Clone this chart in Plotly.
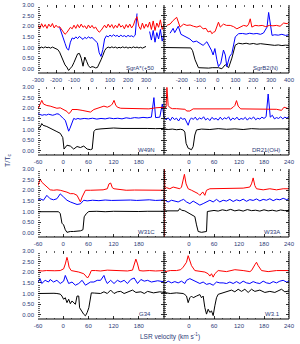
import plotly.graph_objects as go

# ---------------- data ----------------
# Row 1 left: SgrA*(+50
SGRA_V_RED = list(range(-300, 401, 10))
SGRA_RED = [2.05, 1.88, 2.12, 1.95, 2.08, 1.90, 2.10, 1.97, 2.13, 1.92,
            2.05, 1.95, 1.98, 1.85, 1.78, 1.62, 1.70, 1.80, 1.95, 1.88,
            2.05, 1.90, 2.08, 1.93, 2.10, 1.95, 2.02, 1.88, 2.06, 1.92,
            2.04, 1.90, 1.96, 1.82, 1.72, 1.80, 1.92, 2.05, 1.92, 2.10,
            1.95, 2.08, 1.90, 2.05, 1.93, 2.12, 1.96, 2.04, 1.88, 2.08,
            1.94, 2.10, 1.92, 2.05, 2.30, 2.45, 2.00, 1.85, 2.15, 1.90,
            2.10, 1.95, 2.20, 1.85, 2.25, 1.80, 2.15, 1.95, 2.30, 1.85, 2.10]
SGRA_V_BLUE = list(range(-180, 251, 10)) + [None] + list(range(320, 401, 10))
SGRA_BLUE = [1.95, 1.65, 1.45, 1.20, 0.95, 0.88, 1.25, 1.45, 1.40, 1.50,
             1.42, 1.52, 1.45, 1.38, 1.48, 1.42, 1.50, 1.44, 1.47, 1.40,
             1.30, 1.22, 0.75, 0.58, 0.90, 1.40, 1.55, 1.50, 1.58, 1.52,
             1.60, 1.53, 1.57, 1.50, 1.58, 1.52, 1.56, 1.50, 1.57, 1.52,
             1.55, 1.50, 1.58, 2.60, None,
             1.75, 1.35, 1.80, 1.25, 1.70, 1.40, 1.85, 1.30, 1.60]
SGRA_V_BLACK = list(range(-300, 311, 10))
SGRA_BLACK = [1.00, 0.97, 1.02, 0.98, 1.03, 0.99, 1.01, 0.97, 1.02, 0.98,
              0.96, 0.90, 0.78, 0.55, 0.33, 0.18, 0.08, -0.08, 0.02, 0.12,
              0.30, 0.55, 0.70, 0.72, 0.50, 0.12, 0.55, 0.35, 0.15, 0.05,
              0.10, 0.08, 0.04, 0.06, 0.22, 0.42, 0.62, 0.85, 0.97, 1.02,
              0.98, 1.03, 0.99, 1.02, 0.97, 1.01, 0.98, 1.03, 0.99, 1.02,
              0.97, 1.01, 0.98, 1.03, 0.99, 1.02, 0.98, 1.01, 0.97, 1.03, 1.05]

# Row 1 right: SgrB2(N)
SGRB2_V_BLACK = [-300, -270, -240, -210, -180, -150, -140, -126, -107, -90,
                 -70, -50, -30, -10, 5, 24, 43, 62, 80, 99,
                 118, 140, 160, 180, 200, 220, 240, 260, 280, 296,
                 320, 340, 360, 380, 400]
SGRB2_BLACK = [1.00, 1.00, 1.01, 0.99, 1.00, 0.98, 0.85, 0.42, 0.05, 0.04,
               0.06, 0.03, 0.05, 0.04, 0.05, 0.00, 0.19, 0.05, 0.50, 1.11,
               1.20, 1.17, 1.20, 1.16, 1.19, 1.15, 1.18, 1.16, 1.14, 1.12,
               1.10, 1.12, 1.09, 1.11, 1.10]
SGRB2_V_BLUE = [-266, -249, -240, -220, -205, -190, -172, -155, -137, -118,
                -98, -81, -60, -42, -35, -25, -15, -4, 5, 18,
                33, 43, 52, 67, 80, 99, 118, 140, 160, 180,
                200, 220, 240, 257, 277, 286, 296, 305, 320, 340,
                360, 380, 400]
SGRB2_BLUE = [1.67, 1.90, 1.70, 2.00, 1.62, 1.55, 1.50, 1.40, 1.26, 1.30,
              1.19, 1.10, 1.27, 1.03, 0.88, 0.65, 0.95, 0.42, 0.10, 0.26,
              0.88, 0.65, 0.10, 0.57, 0.72, 1.50, 1.65, 1.66, 1.63, 1.67,
              1.64, 1.66, 1.62, 1.68, 1.96, 2.65, 1.96, 1.57, 1.60, 1.58,
              1.62, 1.57, 1.60]
SGRB2_V_RED = [-285, -266, -249, -229, -210, -190, -172, -154, -135, -116,
               -98, -81, -65, -53, -40, -32, -22, -14, 5, 15,
               33, 50, 71, 90, 108, 127, 146, 165, 174, 183,
               192, 210, 230, 250, 270, 290, 310, 330, 350, 370,
               390, 400]
SGRB2_RED = [2.04, 2.10, 2.27, 2.42, 1.96, 2.10, 2.04, 2.06, 2.00, 1.96,
             2.02, 1.88, 1.90, 1.73, 1.78, 1.65, 1.72, 1.75, 2.19, 1.96,
             2.10, 2.04, 2.04, 1.98, 1.88, 1.98, 2.04, 2.00, 2.10, 2.35,
             1.96, 2.04, 2.02, 2.04, 1.98, 2.04, 2.02, 2.04, 2.00, 2.15,
             2.12, 2.20]

# Row 2 left: W49N
W49N_V_BLACK = [-60, -55, -51, -48, -39, -31, -23, -15, -7, -1,
                2, 5, 9, 17, 25, 33, 41, 49, 57, 65,
                69, 73, 77, 90, 105, 120, 140, 160, 180, 200, 220, 240]
W49N_BLACK = [1.05, 1.10, 1.28, 1.20, 1.14, 1.05, 0.98, 0.90, 0.82, 0.62,
              0.08, 0.15, 0.26, 0.22, 0.08, 0.20, 0.15, 0.22, 0.08, 0.05,
              0.08, 0.90, 1.00, 1.03, 1.05, 1.07, 1.05, 1.06, 1.04, 1.05, 1.04, 1.05]
W49N_V_BLUE = [-60, -55, -50, -45, -40, -35, -30, -25, -20, -15,
               -10, -5, 0, 5, 10, 13, 16, 20, 25, 30,
               35, 40, 50, 60, 70, 80, 90, 100, 110, 120,
               130, 140, 150, 160, 170, 180, 190, 200, 210, 216,
               220, 230, 236, 240]
W49N_BLUE = [1.74, 1.70, 1.67, 1.70, 1.68, 1.72, 1.69, 1.67, 1.70, 1.74,
             1.72, 1.60, 1.52, 1.43, 1.10, 0.92, 1.05, 1.30, 1.52, 1.48,
             1.52, 1.49, 1.52, 1.50, 1.53, 1.49, 1.52, 1.50, 1.54, 1.51,
             1.53, 1.50, 1.55, 1.52, 1.56, 1.54, 1.57, 1.55, 1.58, 2.50,
             1.56, 1.58, 2.20, 1.57]
W49N_V_RED = [-60, -55, -51, -47, -39, -31, -23, -15, -7, 1,
              9, 13, 17, 21, 33, 45, 57, 65, 73, 81,
              89, 97, 105, 113, 117, 121, 125, 129, 137, 150,
              165, 177, 190, 204, 220, 240]
W49N_RED = [1.97, 2.20, 2.37, 2.20, 2.13, 2.10, 2.05, 2.00, 2.02, 1.94,
            1.85, 1.75, 1.80, 1.94, 1.94, 1.90, 1.85, 1.82, 1.94, 2.00,
            2.05, 2.10, 2.05, 2.12, 2.20, 2.37, 2.15, 2.05, 2.00, 2.00,
            1.98, 1.97, 1.98, 1.97, 2.02, 2.05]

# Row 2 right: DR21(OH)
DR21_V_BLACK = [-60, -50, -40, -30, -20, -14, -10, -7, -2, 6,
                10, 14, 18, 30, 50, 70, 90, 110, 130, 150,
                170, 190, 210, 230, 240]
DR21_BLACK = [1.03, 1.00, 1.02, 0.99, 1.01, 0.98, 0.88, 0.35, 0.12, 0.05,
              0.20, 0.74, 0.98, 1.02, 1.00, 1.04, 1.01, 1.03, 1.00, 1.04,
              1.02, 1.03, 1.01, 1.04, 1.03]
DR21_V_BLUE = [-60, -55, -50, -45, -40, -35, -30, -25, -20, -15,
               -10, -5, -2, 2, 6, 10, 15, 20, 25, 30,
               35, 40, 45, 50, 55, 60, 65, 70, 75, 80,
               85, 90, 95, 100, 105, 110, 115, 120, 125, 130,
               135, 140, 145, 150, 155, 160, 165, 170, 175, 180,
               185, 190, 195, 200, 205, 210, 215, 220, 225, 230,
               235, 240]
DR21_BLUE = [1.60, 1.45, 1.55, 1.42, 1.58, 1.47, 1.53, 1.40, 1.56, 1.48,
             1.52, 1.36, 1.20, 1.45, 1.55, 1.47, 1.58, 1.44, 1.55, 1.49,
             1.60, 1.45, 1.53, 1.42, 1.57, 1.48, 1.52, 1.44, 1.58, 1.46,
             1.55, 1.50, 1.60, 1.43, 1.54, 1.47, 1.58, 1.45, 1.52, 1.48,
             1.57, 1.44, 1.55, 1.50, 1.59, 1.46, 1.53, 1.49, 1.58, 1.52,
             1.60, 2.67, 1.58, 1.67, 1.50, 1.56, 1.52, 1.60, 1.50, 1.58,
             1.53, 1.60]
DR21_V_RED = [-60, -55, -53, -50, -46, -40, -30, -20, -10, -5,
              2, 10, 20, 40, 60, 80, 100, 106, 110, 114,
              118, 124, 140, 160, 180, 200, 210, 222, 228, 240]
DR21_RED = [2.00, 2.05, 2.98, 2.13, 2.03, 1.98, 1.98, 1.97, 1.95, 1.87,
            1.87, 1.97, 1.97, 1.98, 1.96, 1.98, 1.97, 2.05, 2.13, 2.36,
            2.10, 1.97, 1.97, 1.98, 1.96, 1.97, 1.95, 1.90, 2.05, 1.97]

# Row 3 left: W31C
W31C_V_BLACK = [-60, -40, -20, -11, -7, -3, 1, 5, 9, 17,
                25, 33, 41, 47, 50, 55, 61, 80, 100, 120,
                140, 160, 180, 200, 220, 240]
W31C_BLACK = [0.99, 1.00, 0.99, 0.99, 0.90, 0.45, 0.37, 0.14, 0.02, 0.06,
              0.06, 0.07, 0.09, 0.14, 0.75, 0.90, 1.00, 1.01, 0.99, 1.01,
              1.00, 1.02, 1.00, 1.01, 1.00, 1.01]
W31C_V_BLUE = [-60, -55, -47, -39, -31, -23, -15, -7, 1, 9,
               17, 25, 33, 41, 49, 57, 70, 85, 100, 115,
               130, 145, 160, 175, 190, 205, 220, 240]
W31C_BLUE = [1.53, 1.60, 1.53, 1.76, 1.60, 1.55, 1.60, 1.83, 1.68, 1.53,
             1.45, 1.40, 1.33, 1.36, 1.53, 1.50, 1.53, 1.51, 1.54, 1.52,
             1.53, 1.51, 1.54, 1.52, 1.53, 1.55, 1.52, 1.54]
W31C_V_RED = [-60, -55, -51, -47, -39, -31, -23, -15, -7, 1,
              9, 17, 25, 33, 37, 41, 45, 49, 53, 65,
              80, 95, 105, 109, 113, 117, 121, 135, 150, 170,
              190, 210, 240]
W31C_RED = [2.22, 2.53, 2.38, 2.30, 2.14, 2.02, 2.00, 2.02, 2.00, 1.96,
            1.91, 1.84, 1.84, 1.76, 1.60, 1.45, 1.68, 1.84, 2.00, 2.00,
            2.01, 2.02, 2.07, 2.30, 2.34, 2.12, 2.07, 2.02, 2.00, 2.01,
            2.00, 2.01, 2.00]

# Row 3 right: W33A
W33A_V_BLACK = [-60, -50, -40, -30, -26, -22, -18, -10, -2, 6,
                14, 18, 22, 30, 38, 42, 44, 50, 60, 70,
                80, 90, 100, 110, 120, 130, 140, 150, 160, 170,
                180, 190, 200, 210, 220, 230, 240]
W33A_BLACK = [1.03, 1.03, 1.02, 1.03, 1.03, 1.14, 1.06, 1.03, 0.95, 0.84,
              0.76, 0.37, 0.06, 0.02, 0.06, 0.06, 1.00, 1.03, 1.05, 1.02,
              1.08, 1.04, 1.10, 1.03, 1.07, 1.02, 1.09, 1.04, 1.06, 1.02,
              1.08, 1.03, 1.06, 1.02, 1.07, 1.04, 1.05]
W33A_V_BLUE = [-58, -50, -42, -34, -26, -18, -13, -6, 2, 10,
               18, 26, 34, 42, 50, 58, 66, 74, 82, 90,
               98, 106, 114, 122, 130, 138, 146, 154, 162, 170,
               178, 186, 194, 202, 210, 218, 226, 234, 240]
W33A_BLUE = [1.53, 1.45, 1.53, 1.49, 1.45, 1.53, 1.57, 1.45, 1.37, 1.49,
             1.40, 1.30, 1.37, 1.45, 1.53, 1.45, 1.57, 1.45, 1.53, 1.49,
             1.57, 1.47, 1.55, 1.50, 1.58, 1.48, 1.56, 1.52, 1.59, 1.50,
             1.57, 1.53, 1.60, 1.51, 1.58, 1.55, 1.62, 1.56, 1.60]
W33A_V_RED = [-59.5, -59.5, -58, -54, -46, -38, -30, -22, -18, -14,
              -11, -7, -2, 6, 14, 22, 26, 33, 38, 42,
              50, 66, 82, 98, 114, 130, 146, 150, 154, 158,
              162, 178, 194, 210, 226, 240]
W33A_RED = [-0.3, 3.1, 2.07, 2.12, 2.07, 2.15, 2.10, 2.07, 2.15, 2.45,
            2.75, 2.30, 2.07, 2.00, 1.92, 1.84, 1.76, 1.92, 1.76, 2.00,
            2.07, 2.07, 2.10, 2.07, 2.07, 2.10, 2.15, 2.30, 2.58, 2.22,
            2.07, 2.02, 2.07, 2.02, 2.07, 2.07]

# Row 4 left: G34
G34_V_BLACK = [-59, -50, -40, -31, -22, -15, -7, -3, 1, 5,
               9, 13, 17, 21, 25, 29, 33, 37, 39, 45,
               49, 53, 57, 61, 65, 67, 75, 89, 97, 105,
               113, 121, 129, 137, 145, 153, 165, 173, 185, 193,
               201, 215, 230, 240]
G34_BLACK = [1.00, 1.01, 1.00, 1.00, 1.01, 1.00, 0.97, 0.88, 0.73, 0.80,
             0.57, 0.73, 0.52, 0.65, 0.57, 0.49, 0.88, 0.88, 0.33, 0.10,
             0.02, -0.05, 0.10, 0.33, 0.73, 1.03, 1.02, 1.00, 1.08, 1.00,
             1.16, 1.00, 1.08, 1.10, 1.00, 1.05, 1.16, 1.05, 1.08, 1.00,
             1.10, 1.03, 1.08, 1.05]
G34_V_BLUE = [-60, -55, -51, -43, -35, -31, -23, -15, -7, 1,
              5, 9, 13, 21, 29, 37, 45, 53, 58, 65,
              73, 81, 89, 97, 101, 105, 113, 121, 129, 137,
              145, 153, 161, 169, 177, 185, 193, 201, 210, 225,
              240]
G34_BLUE = [1.54, 1.70, 1.47, 1.62, 1.54, 1.66, 1.54, 1.62, 1.47, 1.58,
            1.85, 1.62, 1.47, 1.54, 1.39, 1.47, 1.62, 1.39, 1.47, 1.54,
            1.54, 1.62, 1.62, 1.85, 1.62, 1.47, 1.62, 1.47, 1.62, 1.54,
            1.62, 1.47, 1.66, 1.73, 1.47, 1.66, 1.58, 1.62, 1.54, 1.60,
            1.55]
G34_V_RED = [-60, -50, -40, -30, -20, -7, 1, 5, 9, 11,
             14, 19, 27, 37, 49, 53, 58, 62, 67, 77,
             89, 105, 121, 137, 153, 165, 169, 173, 177, 181,
             190, 205, 220, 240]
G34_RED = [2.08, 2.06, 2.08, 2.06, 2.07, 2.08, 2.16, 2.39, 2.70, 2.55,
           2.24, 2.08, 2.06, 2.01, 1.93, 1.85, 1.73, 1.85, 2.08, 2.08,
           2.06, 2.10, 2.08, 2.08, 2.06, 2.10, 2.31, 2.62, 2.39, 2.08,
           2.06, 2.08, 2.06, 2.08]

# Row 4 right: W3.1
W31_V_BLACK = [-60, -45, -30, -14, -10, -6, -2, 2, 6, 10,
               18, 26, 30, 34, 38, 42, 46, 50, 54, 58,
               62, 66, 70, 80, 90, 102, 110, 118, 126, 134,
               142, 150, 158, 170, 182, 194, 206, 222, 230, 240]
W31_BLACK = [1.05, 1.00, 1.03, 1.00, 0.95, 0.88, 0.57, 0.80, 0.88, 0.80,
             0.88, 0.95, 0.80, 0.88, 0.34, 0.03, 0.26, 0.11, 0.18, -0.04,
             0.42, 0.80, 0.96, 1.03, 1.08, 1.16, 1.08, 1.20, 1.10, 1.20,
             1.05, 1.20, 1.10, 1.16, 1.05, 1.10, 1.05, 1.20, 1.08, 1.12]
W31_V_BLUE = [-58, -50, -42, -34, -26, -18, -10, -6, 2, 10,
              18, 26, 34, 42, 50, 58, 66, 74, 82, 90,
              98, 106, 114, 122, 130, 138, 146, 154, 162, 170,
              178, 186, 194, 202, 210, 218, 226, 234, 240]
W31_BLUE = [1.47, 1.58, 1.50, 1.56, 1.50, 1.58, 1.47, 1.62, 1.70, 1.62,
            1.54, 1.47, 1.54, 1.43, 1.47, 1.39, 1.54, 1.50, 1.50, 1.47,
            1.54, 1.47, 1.56, 1.47, 1.58, 1.50, 1.47, 1.56, 1.50, 1.47,
            1.58, 1.50, 1.47, 1.56, 1.50, 1.58, 1.62, 1.54, 1.56]
W31_V_RED = [-58, -45, -30, -20, -14, -6, -2, 2, 6, 14,
             26, 38, 46, 50, 54, 58, 62, 70, 90, 110,
             130, 146, 150, 154, 158, 162, 166, 174, 190, 210,
             240]
W31_RED = [2.03, 2.08, 2.08, 2.12, 2.24, 2.47, 2.78, 2.55, 2.31, 2.08,
           2.03, 2.01, 1.93, 1.82, 1.93, 1.77, 1.93, 2.08, 2.03, 2.12,
           2.08, 2.03, 2.08, 2.24, 2.35, 2.47, 2.31, 2.08, 2.03, 2.08,
           2.08]

PANEL_LABELS = ["SgrA*(+50", "SgrB2(N)", "W49N", "DR21(OH)",
                "W31C", "W33A", "G34", "W3.1"]
TOP_XTICKS_LEFT = [-300, -200, -100, 0, 100, 200, 300]
TOP_XTICKS_RIGHT = [-200, -100, 0, 100, 200, 300, 400]
XTICKS_LEFT = [-60, 0, 60, 120, 180]
XTICKS_RIGHT = [0, 60, 120, 180, 240]

# ---------------- figure ----------------
panels = [
    (SGRA_V_BLACK, SGRA_BLACK, SGRA_V_BLUE, SGRA_BLUE, SGRA_V_RED, SGRA_RED),
    (SGRB2_V_BLACK, SGRB2_BLACK, SGRB2_V_BLUE, SGRB2_BLUE, SGRB2_V_RED, SGRB2_RED),
    (W49N_V_BLACK, W49N_BLACK, W49N_V_BLUE, W49N_BLUE, W49N_V_RED, W49N_RED),
    (DR21_V_BLACK, DR21_BLACK, DR21_V_BLUE, DR21_BLUE, DR21_V_RED, DR21_RED),
    (W31C_V_BLACK, W31C_BLACK, W31C_V_BLUE, W31C_BLUE, W31C_V_RED, W31C_RED),
    (W33A_V_BLACK, W33A_BLACK, W33A_V_BLUE, W33A_BLUE, W33A_V_RED, W33A_RED),
    (G34_V_BLACK, G34_BLACK, G34_V_BLUE, G34_BLUE, G34_V_RED, G34_RED),
    (W31_V_BLACK, W31_BLACK, W31_V_BLUE, W31_BLUE, W31_V_RED, W31_RED),
]

W, H = 300, 344
ML, MR, MT, MB = 38, 11, 5, 25
PW = W - ML - MR
PH = H - MT - MB
split = 126 / PW
row_tops = [5, 87, 169, 251]
row_h = 68

TXT = "#2c3a78"
FONT = "Liberation Sans, Arial, sans-serif"

fig = go.Figure()
layout = dict(
    width=W, height=H,
    margin=dict(l=ML, r=MR, t=MT, b=MB, pad=0, autoexpand=False),
    paper_bgcolor="white", plot_bgcolor="white",
    showlegend=False,
    font=dict(family=FONT, size=6, color=TXT),
)
shapes = []
annotations = []

for i, (vk, k, vb, b, vr, r) in enumerate(panels):
    n = i + 1
    row, col = i // 2, i % 2
    xa = "x" if n == 1 else f"x{n}"
    ya = "y" if n == 1 else f"y{n}"
    for vx, vy, colr in ((vk, k, "black"), (vb, b, "#0000ff"), (vr, r, "#ff0000")):
        fig.add_trace(go.Scatter(x=vx, y=vy, mode="lines", xaxis=xa, yaxis=ya,
                                 line=dict(color=colr, width=1), hoverinfo="skip",
                                 connectgaps=False))
    top = row_tops[row]
    y1 = (MT + PH - top) / PH
    y0 = (MT + PH - top - row_h) / PH
    xdom = [0, split] if col == 0 else [split, 1]
    if row == 0:
        xr = [-300, 400]
        tv = TOP_XTICKS_LEFT if col == 0 else TOP_XTICKS_RIGHT
        mdt, mt0 = 50, -300
    else:
        xr = [-60, 240]
        tv = XTICKS_LEFT if col == 0 else XTICKS_RIGHT
        mdt, mt0 = 20, -60
    xkey = "xaxis" if n == 1 else f"xaxis{n}"
    ykey = "yaxis" if n == 1 else f"yaxis{n}"
    layout[xkey] = dict(
        domain=xdom, anchor=ya, range=xr, tickmode="array", tickvals=tv,
        ticktext=[str(t) for t in tv], ticks="inside", ticklen=3, tickwidth=0.8,
        tickcolor="black", mirror="ticks", showline=False, showgrid=False,
        zeroline=False, tickfont=dict(size=6, color=TXT), ticklabelstandoff=2,
        ticklabeloverflow="allow", automargin=False,
        minor=dict(ticks="inside", ticklen=1.5, tickwidth=0.6, tickcolor="black",
                   tickmode="linear", tick0=mt0, dtick=mdt, showgrid=False),
    )
    layout[ykey] = dict(
        domain=[y0, y1], anchor=xa, range=[-0.2, 3.0], tickmode="linear", tick0=0,
        dtick=0.5, tickformat=".2f", ticks="inside", ticklen=3, tickwidth=0.8,
        tickcolor="black", mirror="ticks", showline=False, showgrid=False,
        zeroline=False, showticklabels=(col == 0), automargin=False,
        tickfont=dict(size=6, color=TXT), ticklabelstandoff=3,
        minor=dict(ticks="inside", ticklen=1.5, tickwidth=0.6, tickcolor="black",
                   tickmode="linear", tick0=0, dtick=0.1, showgrid=False),
    )
    xd = f"{xa} domain"
    yd = f"{ya} domain"
    # frame lines
    shapes.append(dict(type="line", xref=xd, yref=yd, x0=0, x1=1, y0=0, y1=0,
                       line=dict(color="black", width=1)))
    if col == 1:
        for xx in (0, 1):
            shapes.append(dict(type="line", xref=xd, yref=yd, x0=xx, x1=xx, y0=0, y1=1,
                               line=dict(color="black", width=1)))
    # panel label
    lab_x = 0.944
    if i == 1:
        lab_x = 0.928
    if i == 6:
        lab_x = 0.913
    annotations.append(dict(text=PANEL_LABELS[i], xref=xd, yref=yd, x=lab_x, y=0.08,
                            xanchor="right", yanchor="middle", showarrow=False,
                            font=dict(size=6, color=TXT, family=FONT)))

annotations.append(dict(text="T/T<sub>c</sub>", xref="paper", yref="paper",
                        x=(8 - ML) / PW, y=(MT + PH - 160) / PH, textangle=-90,
                        xanchor="center", yanchor="middle", showarrow=False,
                        font=dict(size=7, color=TXT, family=FONT)))
annotations.append(dict(text="LSR velocity (km s<sup>-1</sup>)", xref="paper", yref="paper",
                        x=(170 - ML) / PW, y=(MT + PH - 336) / PH,
                        xanchor="center", yanchor="middle", showarrow=False,
                        font=dict(size=6.5, color=TXT, family=FONT)))

layout["shapes"] = shapes
layout["annotations"] = annotations
fig.update_layout(**layout)
fig.write_html("out.html",
               config={"displayModeBar": False, "staticPlot": True},
               post_script="document.body.style.margin='0';"
                           "document.body.style.overflow='hidden';")
